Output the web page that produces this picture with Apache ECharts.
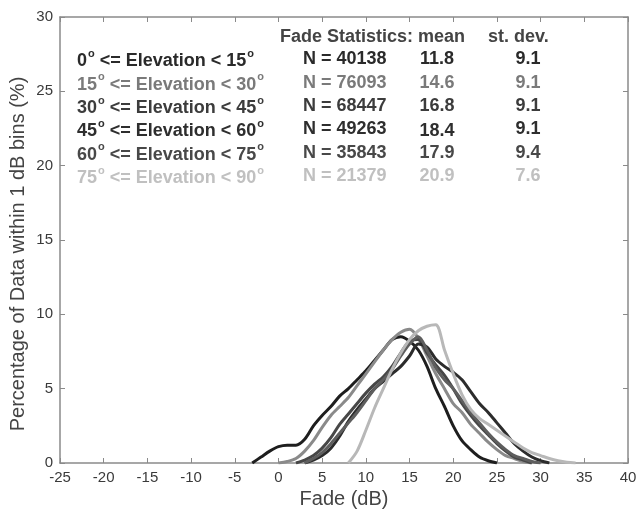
<!DOCTYPE html>
<html>
<head>
<meta charset="utf-8">
<script src="https://cdn.jsdelivr.net/npm/echarts@6/dist/echarts.min.js"></script>
<style>html,body{margin:0;padding:0;background:#fff}#c{width:640px;height:515px}</style>
</head>
<body>
<div id="c"></div>
<script>
// Fade bins (dB), 1 dB steps from -4 to 34
var fadeBins = [];
for (var b = -4; b <= 34; b++) fadeBins.push(b);

// Percentage of data per 1 dB bin, one array per elevation range
var elev0_15  = [null,0,0.4,0.8,1.1,1.2,1.2,1.6,2.5,3.2,3.8,4.5,5.0,5.6,6.2,6.9,7.6,8.3,8.5,8.2,7.6,6.5,5.0,3.8,2.5,1.5,0.9,0.4,0.15,0,null,null,null,null,null,null,null,null,null];
var elev15_30 = [null,null,null,null,0,0.1,0.3,0.8,1.5,2.4,3.2,3.8,4.4,5.2,6.0,6.8,7.6,8.3,8.8,9.0,8.4,7.2,6.0,5.0,4.0,3.4,2.6,2.0,1.4,0.9,0.5,0.3,0.1,0,null,null,null,null,null];
var elev30_45 = [null,null,null,null,null,null,0,0.2,0.5,1.0,1.7,2.6,3.3,4.0,4.7,5.3,5.8,6.5,7.4,8.2,8.3,7.4,6.6,5.9,5.0,4.0,3.2,2.5,1.9,1.3,0.8,0.4,0.2,0,null,null,null,null,null];
var elev45_60 = [null,null,null,null,null,null,null,0,0.2,0.5,1.0,1.8,2.8,3.6,4.3,5.0,5.5,6.0,6.5,7.2,8.0,7.8,7.0,6.5,6.1,5.6,4.8,4.0,3.4,2.7,2.0,1.3,0.8,0.4,0.15,0,null,null,null];
var elev60_75 = [null,null,null,null,null,null,null,0,0.3,0.7,1.3,2.0,2.7,3.4,4.2,5.0,5.6,6.3,7.2,8.0,8.5,7.6,6.4,5.6,5.0,4.2,3.4,2.7,2.0,1.4,0.9,0.5,0.3,0.1,0,null,null,null,null];
var elev75_90 = [null,null,null,null,null,null,null,null,null,null,null,null,0,0.8,2.2,3.7,5.0,6.3,7.4,8.3,8.9,9.2,9.3,7.6,6.0,4.6,3.6,3.0,2.6,2.2,1.8,1.4,1.0,0.7,0.5,0.3,0.15,0.05,0];

// Statistics table
var elevLow  = ['0','15','30','45','60','75'];
var elevHigh = ['15','30','45','60','75','90'];
var countN   = ['40138','76093','68447','49263','35843','21379'];
var meanVals = ['11.8','14.6','16.8','18.4','17.9','20.9'];
var stdVals  = ['9.1','9.1','9.1','9.1','9.4','7.6'];

var seriesData = [elev0_15, elev15_30, elev30_45, elev45_60, elev60_75, elev75_90];
var lineColors = ['#1e1e1e','#8a8a8a','#474747','#2c2c2c','#5e5e5e','#b8b8b8'];
var textColors = ['#2a2a2a','#7a7a7a','#3c3c3c','#2e2e2e','#484848','#c0c0c0'];

var chart = echarts.init(document.getElementById('c'), null, {renderer: 'canvas'});
var FONT = '"Liberation Sans", Arial, sans-serif';

var series = seriesData.map(function (vals, i) {
  return {
    type: 'line',
    data: fadeBins.map(function (x, k) { return [x, vals[k]]; }),
    showSymbol: false,
    smooth: 0.3,
    connectNulls: false,
    lineStyle: {color: lineColors[i], width: 3},
    itemStyle: {color: lineColors[i]},
    z: 2 + i,
    silent: true
  };
});

var graphics = [];
var FS = 18;
var rowY = [59.5, 82.8, 106.1, 129.4, 152.7, 176];
function txt(x, y, s, col, align) {
  return {type: 'text', x: x, y: y, z: 100,
    style: {text: s, fill: col, fontFamily: FONT, fontWeight: 'bold', fontSize: FS,
            align: align || 'left', verticalAlign: 'middle'}};
}
graphics.push(txt(280, 37, 'Fade Statistics: mean', '#444'));
graphics.push(txt(488, 37, 'st. dev.', '#444'));
for (var i = 0; i < 6; i++) {
  var c = textColors[i];
  graphics.push({
    type: 'text', x: 77, y: rowY[i], z: 100,
    style: {
      text: '{t|' + elevLow[i] + '}{s|o}{t| <= Elevation < ' + elevHigh[i] + '}{s|o}',
      verticalAlign: 'middle',
      rich: {
        t: {fontFamily: FONT, fontWeight: 'bold', fontSize: FS, fill: c, lineHeight: 22, verticalAlign: 'bottom'},
        s: {fontFamily: FONT, fontWeight: 'bold', fontSize: 11, fill: c, lineHeight: 22, verticalAlign: 'top', padding: [0, 0, 0, 1]}
      }
    }
  });
  graphics.push(txt(303, rowY[i], 'N = ' + countN[i], c));
  graphics.push(txt(437, rowY[i] + (i === 3 ? 2 : 0), meanVals[i], c, 'center'));
  graphics.push(txt(528, rowY[i], stdVals[i], c, 'center'));
}
// y-axis title
graphics.push({type: 'text', x: 18, y: 254, rotation: Math.PI / 2, z: 100,
  style: {text: 'Percentage of Data within 1 dB bins (%)', fill: '#444', fontFamily: FONT,
          fontSize: 20, align: 'center', verticalAlign: 'middle'}});

var axisCommon = {
  axisLine: {show: true, onZero: false, lineStyle: {color: '#8a8a8a', width: 1.5}},
  axisTick: {show: true, inside: true, length: 5, lineStyle: {color: '#8a8a8a', width: 1}},
  splitLine: {show: false}
};

chart.setOption({
  animation: false,
  backgroundColor: '#fff',
  grid: {left: 60, right: 12, top: 17, bottom: 52},
  xAxis: [
    Object.assign({
      type: 'value', min: -25, max: 40, interval: 5, position: 'bottom',
      name: 'Fade (dB)', nameLocation: 'middle', nameGap: 34,
      nameTextStyle: {fontFamily: FONT, fontSize: 20, color: '#444', verticalAlign: 'middle'},
      axisLabel: {fontFamily: FONT, fontSize: 15, color: '#3a3a3a', margin: 7}
    }, axisCommon),
    Object.assign({
      type: 'value', min: -25, max: 40, interval: 5, position: 'top',
      axisLabel: {show: false}
    }, axisCommon)
  ],
  yAxis: [
    Object.assign({
      type: 'value', min: 0, max: 30, interval: 5, position: 'left',
      axisLabel: {fontFamily: FONT, fontSize: 15, color: '#3a3a3a', margin: 7}
    }, axisCommon),
    Object.assign({
      type: 'value', min: 0, max: 30, interval: 5, position: 'right',
      axisLabel: {show: false}
    }, axisCommon)
  ],
  series: series,
  graphic: graphics
});
</script>
</body>
</html>
